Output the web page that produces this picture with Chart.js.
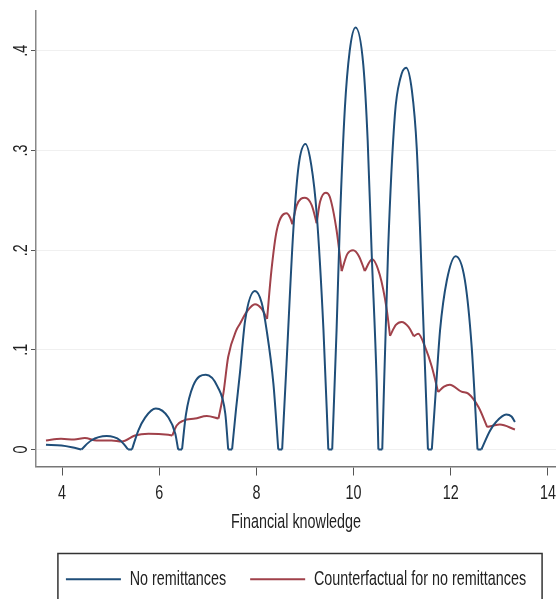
<!DOCTYPE html>
<html>
<head>
<meta charset="utf-8">
<script src="https://cdn.jsdelivr.net/npm/chart.js@4.4.1/dist/chart.umd.min.js"></script>
<style>
  body { margin: 0; background: #fff; }
</style>
</head>
<body>
<canvas id="densityChart" width="556" height="599"></canvas>

<script>
    // values
    const seriesLabels = ['No remittances', 'Counterfactual for no remittances'];

    const blueX = [3.67, 3.99, 4.20, 4.40, 4.60, 4.92, 5.20, 5.36, 5.44, 5.57, 5.71, 5.93, 6.19, 6.33, 6.39, 6.47,
        6.55, 6.70, 6.96, 7.20, 7.36, 7.42, 7.50, 7.58, 7.66, 7.77, 7.97, 8.11, 8.21, 8.35, 8.45, 8.53,
        8.62, 8.76, 8.87, 9.01, 9.13, 9.24, 9.38, 9.48, 9.56, 9.65, 9.72, 9.82, 9.92, 10.04, 10.20, 10.29,
        10.37, 10.475, 10.51, 10.59, 10.71, 10.85, 10.96, 11.08, 11.20, 11.30, 11.43, 11.53, 11.61, 11.70,
        11.78, 11.92, 12.10, 12.29, 12.43, 12.55, 12.63, 12.81, 12.94, 13.14, 13.25, 13.32];
    const blueY = [0.0047, 0.0040, 0.0023, 0, 0.009, 0.0134, 0.009, 0, 0, 0.019, 0.032, 0.041, 0.032, 0.016, 0, 0,
        0.035, 0.064, 0.075, 0.063, 0.036, 0, 0, 0.040, 0.076, 0.130, 0.159, 0.147, 0.120, 0.066, 0, 0,
        0.086, 0.220, 0.285, 0.3065, 0.285, 0.237, 0.120, 0, 0, 0.120, 0.230, 0.342, 0.400, 0.4235, 0.386, 0.310,
        0.200, 0.068, 0, 0, 0.200, 0.336, 0.372, 0.383, 0.360, 0.302, 0.135, 0, 0, 0.065,
        0.120, 0.170, 0.194, 0.170, 0.103, 0, 0, 0.019, 0.028, 0.035, 0.033, 0.0275];

    const redX = [3.67, 3.98, 4.25, 4.47, 4.71, 5.02, 5.23, 5.50, 5.78, 6.19, 6.27, 6.36, 6.50, 6.74, 6.98, 7.22,
        7.32, 7.42, 7.59, 7.66, 7.80, 7.97, 8.11, 8.22, 8.31, 8.42, 8.62, 8.69, 8.74, 8.83, 9.00, 9.14,
        9.24, 9.31, 9.43, 9.51, 9.65, 9.755, 9.87, 9.99, 10.11, 10.23, 10.38, 10.54, 10.68, 10.75, 10.87, 10.99,
        11.13, 11.24, 11.33, 11.47, 11.61, 11.74, 11.86, 11.98, 12.22, 12.36, 12.57, 12.75, 12.88, 13.01, 13.32];
    const redY = [0.009, 0.0107, 0.010, 0.0114, 0.009, 0.009, 0.008, 0.014, 0.0158, 0.0147, 0.014, 0.024, 0.029, 0.031, 0.0335, 0.031,
        0.056, 0.093, 0.120, 0.126, 0.138, 0.1457, 0.141, 0.131, 0.180, 0.220, 0.237, 0.233, 0.226, 0.245, 0.2526, 0.245,
        0.227, 0.2485, 0.2576, 0.2536, 0.220, 0.179, 0.196, 0.200, 0.194, 0.179, 0.191, 0.175, 0.141, 0.114, 0.125, 0.128,
        0.123, 0.1136, 0.116, 0.103, 0.083, 0.0576, 0.063, 0.065, 0.058, 0.056, 0.0425, 0.0224, 0.024, 0.025, 0.020];
    // kinks in the red curve, where one bump meets the next
    const redCusps = [6.27, 7.22, 8.22, 8.74, 9.24, 9.755, 10.23, 10.75, 11.24, 11.74, 12.75];

    const xTicks = [4, 6, 8, 10, 12, 14];
    const yTicks = [0, 0.1, 0.2, 0.3, 0.4];
    const yTickLabels = ['0', '.1', '.2', '.3', '.4'];

    const BLUE = '#1f4e79';
    const RED = '#a0414a';
    const FONT_FAMILY = '"Liberation Sans", Arial, sans-serif';
    const FONT_SIZE = 17.5;
    // Stata draws a narrow, tall font; squeeze the text to match
    const TEXT_SX = 0.82;
    const TEXT_SY = 1.2;

    // cut a curve into pieces at the given x values, so every bump is smoothed on its own
    function splitCurve(xs, ys, cutXs) {
        const pieces = [];
        let current = [];
        xs.forEach((x, i) => {
            current.push({ x: x, y: ys[i] });
            if (cutXs.includes(x) && i > 0 && i < xs.length - 1) {
                pieces.push(current);
                current = [{ x: x, y: ys[i] }];
            }
        });
        pieces.push(current);
        return pieces;
    }

    function makeDatasets(pieces, label, color) {
        return pieces.map((pts, i) => ({
            label: label,
            data: pts,
            inLegend: i === 0,
            borderColor: color,
            backgroundColor: color,
            borderWidth: 2,
            pointRadius: 0,
            cubicInterpolationMode: 'monotone',
            fill: false
        }));
    }

    const blueCuts = blueX.filter((x, i) => blueY[i] === 0);
    const datasets = makeDatasets(splitCurve(blueX, blueY, blueCuts), seriesLabels[0], BLUE)
        .concat(makeDatasets(splitCurve(redX, redY, redCusps), seriesLabels[1], RED));

    const canvas = document.getElementById('densityChart');
    const ctx = canvas.getContext('2d');

    // squeeze all text drawn on this canvas (axis labels, title, legend)
    const origFillText = ctx.fillText.bind(ctx);
    const origMeasureText = ctx.measureText.bind(ctx);
    ctx.fillText = function(text, x, y) {
        ctx.save();
        ctx.translate(x, y);
        ctx.scale(TEXT_SX, TEXT_SY);
        origFillText(text, 0, 0);
        ctx.restore();
    };
    ctx.measureText = function(text) {
        const m = origMeasureText(text);
        return {
            width: m.width * TEXT_SX,
            actualBoundingBoxLeft: m.actualBoundingBoxLeft * TEXT_SX,
            actualBoundingBoxRight: m.actualBoundingBoxRight * TEXT_SX,
            actualBoundingBoxAscent: m.actualBoundingBoxAscent * TEXT_SY,
            actualBoundingBoxDescent: m.actualBoundingBoxDescent * TEXT_SY
        };
    };

    // y labels are rotated in the original, Chart.js can't do that for a vertical axis
    const rotatedYLabels = {
        id: 'rotatedYLabels',
        afterDraw(chart) {
            const c = chart.ctx;
            const yScale = chart.scales.y;
            c.save();
            c.font = FONT_SIZE + 'px ' + FONT_FAMILY;
            c.fillStyle = '#222';
            c.textAlign = 'center';
            c.textBaseline = 'middle';
            yTicks.forEach((v, i) => {
                c.save();
                c.translate(21, yScale.getPixelForValue(v));
                c.rotate(-Math.PI / 2);
                c.fillText(yTickLabels[i], 0, 0);
                c.restore();
            });
            c.restore();
        }
    };

    // frame round the legend
    const legendFrame = {
        id: 'legendFrame',
        afterDraw(chart) {
            const boxes = chart.legend.legendHitBoxes;
            if (!boxes || !boxes.length) return;
            const first = boxes[0];
            const last = boxes[boxes.length - 1];
            const left = first.left - 8;
            const right = last.left + last.width + 16;
            const top = first.top - 17;
            const c = chart.ctx;
            c.save();
            c.strokeStyle = '#333';
            c.lineWidth = 1.5;
            c.strokeRect(left, top, right - left, 120);
            c.restore();
        }
    };

    new Chart(ctx, {
        type: 'line',
        data: { datasets: datasets },
        options: {
            responsive: false,
            animation: false,
            layout: {
                padding: { top: 11, right: 0, left: 0, bottom: 1 }
            },
            scales: {
                x: {
                    type: 'linear',
                    min: 3.465,
                    max: 14.165,
                    afterBuildTicks: axis => { axis.ticks = xTicks.map(v => ({ value: v })); },
                    afterFit: axis => { axis.paddingLeft = 0; axis.paddingRight = 0; },
                    grid: {
                        drawOnChartArea: false,
                        drawTicks: true,
                        tickLength: 9,
                        tickColor: '#555'
                    },
                    border: { color: '#777', width: 1.5 },
                    ticks: {
                        color: '#222',
                        padding: 7.5,
                        maxRotation: 0,
                        font: { family: FONT_FAMILY, size: FONT_SIZE }
                    },
                    title: {
                        display: true,
                        text: 'Financial knowledge',
                        color: '#222',
                        padding: { top: 0, bottom: 14 },
                        font: { family: FONT_FAMILY, size: FONT_SIZE }
                    }
                },
                y: {
                    min: -0.0171,
                    max: 0.44,
                    afterBuildTicks: axis => { axis.ticks = yTicks.map(v => ({ value: v })); },
                    afterFit: axis => { axis.width = 36; },
                    grid: {
                        color: '#f0f0f0',
                        lineWidth: 1,
                        drawTicks: true,
                        tickLength: 5,
                        tickColor: '#555'
                    },
                    border: { color: '#888', width: 1.5 },
                    ticks: { display: false }
                }
            },
            plugins: {
                legend: {
                    position: 'bottom',
                    fullSize: false,
                    labels: {
                        usePointStyle: true,
                        pointStyle: 'line',
                        pointStyleWidth: 55,
                        padding: 24,
                        color: '#222',
                        font: { family: FONT_FAMILY, size: FONT_SIZE },
                        filter: (item, data) => data.datasets[item.datasetIndex].inLegend
                    }
                },
                tooltip: { enabled: false }
            }
        },
        plugins: [rotatedYLabels, legendFrame]
    });
</script>
</body>
</html>
